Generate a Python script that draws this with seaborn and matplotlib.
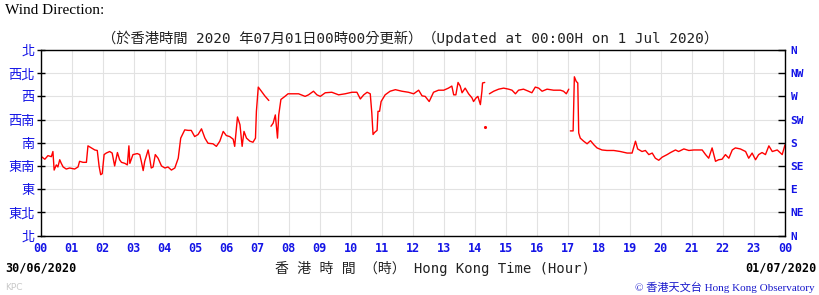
import numpy as np
import pandas as pd
import matplotlib
matplotlib.use("Agg")
import matplotlib.pyplot as plt
import seaborn as sns

# ---------------- data (hour of day, wind direction in degrees) ----------------
seg1_hours = [0.00, 0.03, 0.14, 0.24, 0.35, 0.40, 0.44, 0.51, 0.56, 0.62, 0.67, 0.73, 0.83, 0.94,
              1.10, 1.21, 1.26, 1.37, 1.48, 1.53, 1.64, 1.75, 1.83, 1.89, 1.94, 1.99, 2.05, 2.12,
              2.23, 2.31, 2.39, 2.48, 2.55, 2.61, 2.72, 2.80, 2.85, 2.88, 2.98, 3.12, 3.20, 3.25,
              3.31, 3.36, 3.47, 3.52, 3.57, 3.63, 3.70, 3.79, 3.90, 4.01, 4.11, 4.22, 4.33, 4.44,
              4.52, 4.65, 4.76, 4.86, 4.97, 5.08, 5.19, 5.30, 5.40, 5.56, 5.67, 5.78, 5.89, 5.99,
              6.10, 6.21, 6.26, 6.35, 6.43, 6.50, 6.56, 6.64, 6.75, 6.85, 6.93, 6.96, 7.02, 7.12,
              7.23, 7.36]
seg1_dir = [150, 153, 148, 155, 153, 163, 127, 137, 133, 147, 140, 133, 129, 131,
            129, 133, 144, 142, 142, 174, 170, 166, 165, 134, 118, 120, 157, 160,
            163, 160, 135, 161, 147, 142, 140, 137, 174, 140, 157, 159, 157, 144,
            126, 144, 166, 150, 131, 133, 157, 150, 135, 131, 133, 127, 131, 150,
            189, 205, 204, 204, 192, 196, 207, 189, 179, 178, 173, 183, 202, 194,
            192, 187, 173, 230, 215, 173, 202, 189, 183, 181, 189, 241, 288, 280,
            271, 262]

seg2_hours = [7.43, 7.50, 7.57, 7.64, 7.68, 7.75, 7.88, 7.98, 8.10, 8.32, 8.53, 8.64, 8.80, 8.91,
              9.02, 9.18, 9.39, 9.61, 9.82, 10.04, 10.20, 10.31, 10.42, 10.53, 10.63, 10.68,
              10.72, 10.77, 10.85, 10.88, 10.93, 10.98, 11.11, 11.27, 11.44, 11.65, 11.86, 12.03,
              12.19, 12.30, 12.40, 12.53, 12.67, 12.83, 13.00, 13.15, 13.26, 13.32, 13.39, 13.46,
              13.53, 13.59, 13.69, 13.80, 13.91, 13.96, 14.04, 14.10, 14.18, 14.23, 14.25, 14.32]
seg2_dir = [212, 218, 234, 189, 234, 264, 270, 275, 275, 275, 270, 273, 280, 273,
            270, 277, 278, 273, 275, 278, 278, 265, 273, 278, 275, 238,
            196, 200, 204, 241, 241, 260, 273, 280, 283, 280, 278, 275,
            282, 271, 270, 260, 278, 282, 282, 286, 290, 273, 273, 297,
            290, 277, 286, 275, 267, 260, 267, 270, 254, 280, 296, 297]

dot_hours = [14.34]
dot_dir = [211]

seg3_hours = [14.47, 14.61, 14.77, 14.93, 15.09, 15.20, 15.31, 15.41, 15.57, 15.73, 15.84, 15.95,
              16.06, 16.17, 16.33, 16.54, 16.76, 16.86, 16.95, 17.03]
seg3_dir = [275, 280, 284, 286, 284, 282, 275, 282, 284, 280, 277, 288,
            286, 280, 284, 282, 282, 280, 275, 284]

seg4_hours = [17.08, 17.17, 17.21, 17.27, 17.32, 17.35, 17.40, 17.51, 17.62, 17.73, 17.84, 17.94,
              18.10, 18.26, 18.48, 18.69, 18.91, 19.07, 19.18, 19.25, 19.39, 19.50, 19.61, 19.72,
              19.82, 19.93, 20.04, 20.20, 20.31, 20.47, 20.57, 20.74, 20.90, 21.06, 21.22, 21.33,
              21.44, 21.54, 21.65, 21.76, 21.86, 21.97, 22.08, 22.19, 22.30, 22.40, 22.56, 22.73,
              22.83, 22.94, 23.05, 23.15, 23.26, 23.37, 23.48, 23.59, 23.75, 23.91, 24.00]
seg4_dir = [203, 203, 308, 299, 296, 199, 189, 183, 178, 184, 176, 170,
            166, 165, 165, 163, 160, 160, 183, 168, 163, 165, 157, 160,
            150, 146, 152, 157, 161, 166, 163, 168, 165, 166, 166, 166,
            157, 150, 170, 144, 147, 148, 157, 150, 166, 170, 168, 163,
            150, 160, 147, 157, 161, 157, 174, 163, 166, 157, 176]

dir_ticks = [0, 45, 90, 135, 180, 225, 270, 315, 360]
dir_labels_zh = ["北", "東北", "東", "東南", "南", "西南", "西", "西北", "北"]
dir_labels_en = ["N", "NE", "E", "SE", "S", "SW", "W", "NW", "N"]
hour_ticks = list(range(25))
hour_labels = [f"{h % 24:02d}" for h in hour_ticks]

title_text = "（於香港時間 2020 年07月01日00時00分更新）（Updated at 00:00H on 1 Jul 2020）"
xlabel_text = "香 港 時 間 （時） Hong Kong Time (Hour)"
date_left = "30/06/2020"
date_right = "01/07/2020"

# ---------------- build table ----------------
frames = []
for i, (h, d) in enumerate([(seg1_hours, seg1_dir), (seg2_hours, seg2_dir),
                            (seg3_hours, seg3_dir), (seg4_hours, seg4_dir)]):
    frames.append(pd.DataFrame({"hour": h, "dir": d, "seg": i}))
df = pd.concat(frames, ignore_index=True)
dots = pd.DataFrame({"hour": dot_hours, "dir": dot_dir})

# ---------------- plot ----------------
sns.set_theme(style="white")
plt.rcParams["font.family"] = ["DejaVu Sans", "Noto Sans CJK TC"]

W, H = 819, 295
fig = plt.figure(figsize=(W / 100, H / 100), dpi=100, facecolor="white")
L, R, T, B = 40.5, 785, 50, 235.5
ax = fig.add_axes([L / W, 1 - B / H, (R - L) / W, (B - T) / H])

red = "#ff0000"
blue = "#1414e6"
sns.lineplot(data=df, x="hour", y="dir", units="seg", estimator=None, sort=False,
             color=red, linewidth=1.0, ax=ax, legend=False)
sns.scatterplot(data=dots, x="hour", y="dir", color=red, s=5, linewidth=0, ax=ax, legend=False)

ax.set_xlim(0, 24)
ax.set_ylim(0, 360)
ax.set_xticks(hour_ticks)
ax.set_yticks(dir_ticks)
ax.grid(True, color="#e2e2e2", linewidth=0.8)
ax.set_axisbelow(True)
ax.set_xlabel("")
ax.set_ylabel("")
for s in ax.spines.values():
    s.set_color("black")
    s.set_linewidth(1.0)

mono_b = dict(family=["DejaVu Sans Mono"], weight="bold")
ax.set_xticklabels(hour_labels, color=blue, fontsize=8.5, **mono_b)
ax.set_yticklabels(dir_labels_zh, color=blue, fontsize=9.5, family=["Noto Sans CJK TC"])
ax.tick_params(axis="x", direction="in", length=4, width=1, color="black", pad=5)
ax.tick_params(axis="y", direction="inout", length=6, width=1, color="black", pad=1)

ax2 = ax.twinx()
ax2.set_ylim(0, 360)
ax2.set_yticks(dir_ticks)
ax2.set_yticklabels(dir_labels_en, color=blue, fontsize=8, **mono_b)
ax2.tick_params(axis="y", direction="in", length=5, width=1, color="black", pad=4)
ax2.grid(False)
for s in ax2.spines.values():
    s.set_visible(False)

# ---------------- texts ----------------
def fx(px):
    return px / W

def fy(py):
    return 1 - py / H

fig.text(fx(5), fy(10), "Wind Direction:", family=["Liberation Serif"], fontsize=11,
         ha="left", va="center", color="black")
fig.text(fx(410), fy(38), title_text, family=["DejaVu Sans Mono", "Noto Sans CJK TC"],
         fontsize=10.3, ha="center", va="center", color="#222222")
fig.text(fx(5), fy(268), date_left, fontsize=8.5, ha="left", va="center", color="black", **mono_b)
fig.text(fx(817), fy(268), date_right, fontsize=8.5, ha="right", va="center", color="black", **mono_b)
fig.text(fx(432), fy(268), xlabel_text, family=["DejaVu Sans Mono", "Noto Sans CJK TC"],
         fontsize=10, ha="center", va="center", color="#222222")
fig.text(fx(5), fy(288), "KPC", fontsize=6.5, ha="left", va="center", color="#c8c8c8")
fig.text(fx(815), fy(287), "© 香港天文台 Hong Kong Observatory",
         family=["Liberation Serif", "Noto Sans CJK TC"], fontsize=8, ha="right", va="center",
         color="#1a1acc")

fig.savefig("out.png", dpi=100, facecolor="white")
